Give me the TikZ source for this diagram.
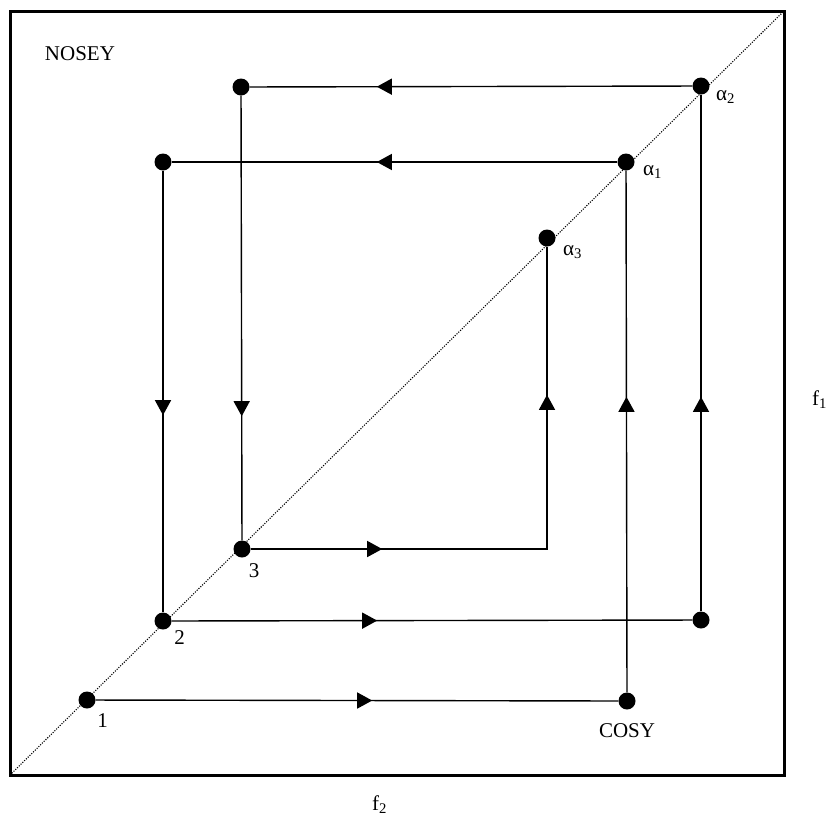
\documentclass[tikz,border=0pt]{standalone}
\usepackage{fontspec}
\setmainfont{Liberation Serif}
\usetikzlibrary{arrows.meta,decorations.markings}
\tikzset{
  tri/.tip={Triangle[length=15pt,width=16pt]},
  dot/.style={circle,fill=black,inner sep=0pt,minimum size=17pt},
  conn/.style={line width=1.4pt},
  arrat/.style={postaction={decorate,decoration={markings,mark=at position #1 with {\arrow{tri}}}}},
  arrtwo/.style 2 args={postaction={decorate,decoration={markings,mark=at position #1 with {\arrow{tri}},mark=at position #2 with {\arrow{tri}}}}},
  lbl/.style={inner sep=0pt,font=\fontsize{21}{24}\selectfont},
}
\begin{document}
\begin{tikzpicture}[x=1pt,y=-1pt]
\useasboundingbox (0,0) rectangle (834,831);
% frame and diagonal
\draw[line width=3pt] (10,11) rectangle (784,775);
\draw[line width=1.1pt,dash pattern=on 1.1pt off 1.4pt] (10,775) -- (784,11);
% nodes
\node[dot] (n1) at (87,700) {};
\node[dot] (cosy) at (627,701) {};
\node[dot] (a1) at (626,162) {};
\node[dot] (p4) at (163,162) {};
\node[dot] (n2) at (163,621) {};
\node[dot] (p6) at (701,620) {};
\node[dot] (a2) at (701,86) {};
\node[dot] (p8) at (241,87) {};
\node[dot] (n3) at (242,549) {};
\node[dot] (a3) at (547,238) {};
% connectors
\draw[conn,arrat=276.5pt] (n1) -- (cosy);
\draw[conn,arrat=295.5pt] (cosy) -- (a1);
\draw[conn,arrat=240.5pt] (a1) -- (p4);
\draw[conn,arrat=244.5pt] (p4) -- (n2);
\draw[conn,arrat=205.5pt] (n2) -- (p6);
\draw[conn,arrat=214.5pt] (p6) -- (a2);
\draw[conn,arrat=315.5pt] (a2) -- (p8);
\draw[conn,arrat=320.5pt] (p8) -- (n3);
\draw[conn,arrtwo={131.5pt}{450.5pt}] (n3) -| (a3);
% labels
\node[lbl,anchor=base] (t1) at (102.5,727) {1};
\node[lbl,anchor=base] (t2) at (179.5,644) {2};
\node[lbl,anchor=base] (t3) at (254,577) {3};
\node[lbl,anchor=base] (tcosy) at (627,737) {COSY};
\node[lbl,anchor=base] (tnosey) at (80,60) {NOSEY};
\node[lbl,anchor=base west] (ta1) at (643,175) {α\textsubscript{1}};
\node[lbl,anchor=base west] (ta2) at (716,100) {α\textsubscript{2}};
\node[lbl,anchor=base west] (ta3) at (563,255) {α\textsubscript{3}};
\node[lbl,anchor=base west] (tf1) at (812,405) {f\textsubscript{1}};
\node[lbl,anchor=base west] (tf2) at (372,810) {f\textsubscript{2}};
\end{tikzpicture}
\end{document}
